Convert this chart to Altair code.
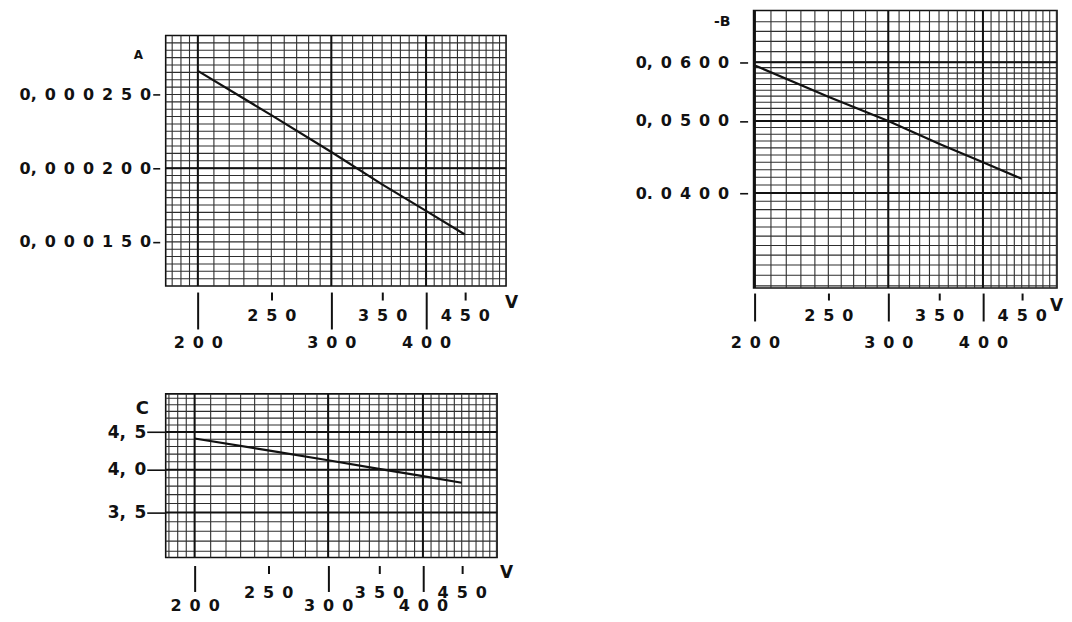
import altair as alt
import pandas as pd

# ---- values ----
V = [200, 250, 300, 350, 400, 450]
A_vals = [0.000266, 0.000236, 0.000211, 0.000189, 0.000171, 0.000155]
B_vals = [0.0594, 0.0539, 0.0500, 0.0466, 0.0440, 0.0418]
C_vals = [4.41, 4.25, 4.12, 4.01, 3.92, 3.84]

x_ticks = [200, 250, 300, 350, 400, 450]
A_ticks = [0.00015, 0.00020, 0.00025]
B_ticks = [0.04, 0.05, 0.06]
C_ticks = [3.5, 4.0, 4.5]

# graph-paper rulings
x_paper = [185, 190, 195] + list(range(200, 510, 10))
A_paper = [round(0.000125 + 0.000005 * k, 6) for k in range(33)]
B_paper = [round(0.030 + 0.001 * k, 3) for k in range(31)] + [0.062, 0.064, 0.066, 0.068]
C_paper = [round(3.1 + 0.1 * k, 1) for k in range(20)]
x_heavy = [200, 300, 400]
A_heavy = [0.00020]
B_heavy = [0.04, 0.05, 0.06]
C_heavy = [3.5, 4.0, 4.5]

FONT = "DejaVu Sans"
INK = "#111111"
GRID = "#2e2e2e"
SP = "\u2002"


def spaced(expr):
    s = f"join(split({expr}, ''), '{SP}')"
    return f"replace(replace({s}, '{SP},', ','), '{SP}.', '.')"


X_LABEL = spaced("format(datum.value, 'd')")
A_LABEL = spaced("replace(format(datum.value, '.6f'), '.', ',')")
B_LABEL = spaced("(datum.value < 0.045 ? format(datum.value, '.4f') : replace(format(datum.value, '.4f'), '.', ','))")
C_LABEL = spaced("replace(format(datum.value, '.1f'), '.', ',')")

HUND = "datum.value % 100 == 0"


def x_axis(long_t, short_t, pad_long, pad_short, offset, tx, ty, fs):
    return alt.Axis(
        values=x_ticks, title="V", titleX=tx, titleY=ty, titleAngle=0,
        titleAlign="center", titleBaseline="middle", titleFont=FONT,
        titleFontSize=17, titleFontWeight="bold", titleColor=INK,
        labelExpr=X_LABEL, labelFont=FONT, labelFontSize=fs, labelFontWeight="bold",
        labelColor=INK, labelOverlap=False, labelFlush=False, labelBaseline="top",
        tickSize={"condition": {"test": HUND, "value": long_t}, "value": short_t},
        labelPadding={"condition": {"test": HUND, "value": pad_long}, "value": pad_short},
        tickWidth=2, tickColor=INK, offset=offset, domain=False, grid=False,
    )


def y_axis(title, tx, ty, tfs, values, expr, fs, tick, pad, offset):
    return alt.Axis(
        values=values, title=title, titleX=tx, titleY=ty, titleAngle=0,
        titleAlign="center", titleBaseline="middle", titleFont=FONT,
        titleFontSize=tfs, titleFontWeight="bold", titleColor=INK,
        labelExpr=expr, labelFont=FONT, labelFontSize=fs, labelFontWeight="bold",
        labelColor=INK, labelOverlap=False, labelFlush=False,
        tickSize=tick, tickWidth=1.6, tickColor=INK, labelPadding=pad,
        offset=offset, domain=False, grid=False,
    )


def panel(values, xdom, ydom, ytype, w, h, ypaper, yheavy, xax, yax):
    xs = alt.Scale(type="log", domain=xdom, nice=False)
    if ytype == "linear":
        ys = alt.Scale(type="linear", domain=ydom, nice=False, zero=False)
    else:
        ys = alt.Scale(type="log", domain=ydom, nice=False)
    xg = [g for g in x_paper if xdom[0] < g < xdom[1]]
    # the first layers carry the axes; the data line is drawn last, on top
    vg = alt.Chart(pd.DataFrame({"gx": xg})).mark_rule(color=GRID, strokeWidth=1.1).encode(
        x=alt.X("gx:Q", scale=xs, axis=xax))
    hg = alt.Chart(pd.DataFrame({"gy": ypaper})).mark_rule(color=GRID, strokeWidth=1.1).encode(
        y=alt.Y("gy:Q", scale=ys, axis=yax))
    vb = alt.Chart(pd.DataFrame({"bx": x_heavy})).mark_rule(color=INK, strokeWidth=2).encode(
        x=alt.X("bx:Q", scale=xs))
    hb = alt.Chart(pd.DataFrame({"by": yheavy})).mark_rule(color=INK, strokeWidth=2).encode(
        y=alt.Y("by:Q", scale=ys))
    ln = alt.Chart(pd.DataFrame({"V": V, "val": values})).mark_line(
        color=INK, strokeWidth=2.2).encode(
        x=alt.X("V:Q", scale=xs),
        y=alt.Y("val:Q", scale=ys))
    return alt.layer(vg, hg, vb, hb, ln).properties(width=w, height=h)


def spacer(w, h):
    return alt.Chart(pd.DataFrame({"s": [0]})).mark_point(size=0, opacity=0).encode(
        x=alt.value(0), y=alt.value(0)
    ).properties(width=w, height=h, view=alt.ViewBackground(stroke="transparent"))


chart_A = panel(
    A_vals, [181.4, 510], [0.00012, 0.00029], "linear", 341, 251, A_paper, A_heavy,
    x_axis(37, 8, 5.8, 7.4, 6, 346, 10, 16),
    y_axis("A", -22, 19, 12, A_ticks, A_LABEL, 16, 7, 2, 6),
)

chart_B = panel(
    B_vals, [199.2, 501], [0.0298, 0.0704], "log", 304, 278, B_paper, B_heavy,
    x_axis(28, 7, 13.6, 7.9, 5, 303, 12, 16),
    y_axis("-B", -26, 11, 14, B_ticks, B_LABEL, 16, 8, 11, 6),
)

chart_C = panel(
    C_vals, [183.2, 501], [3.04, 5.07], "log", 332, 164, C_paper, C_heavy,
    x_axis(26, 8, 6.2, 11.2, 8, 341, 7, 16),
    y_axis("C", -24, 15, 18, C_ticks, C_LABEL, 17, 19, 1, 0),
)

A_block = alt.vconcat(spacer(1, 22), chart_A, spacing=0)
left_col = alt.vconcat(A_block, chart_C, spacing=40)
chart = alt.hconcat(left_col, chart_B, spacing=115).properties(
    padding={"left": 10, "top": 0, "right": 0, "bottom": 0},
    background="white",
).configure_view(stroke=INK, strokeWidth=1.6)

chart.save("out.html", embed_options={"renderer": "svg", "actions": False})
